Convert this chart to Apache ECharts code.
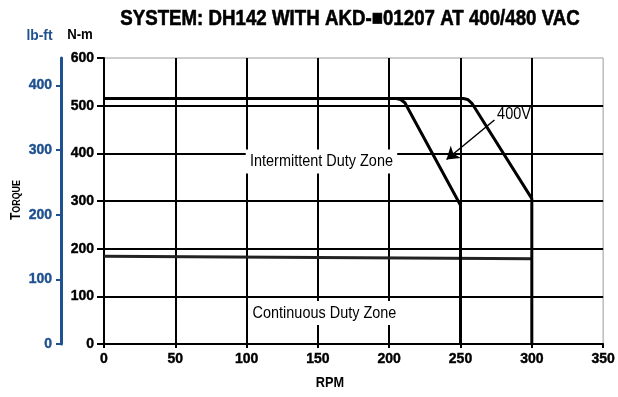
<!DOCTYPE html>
<html>
<head>
<meta charset="utf-8">
<script src="https://cdn.jsdelivr.net/npm/echarts@6/dist/echarts.min.js"></script>
<style>
  html, body { margin: 0; padding: 0; background: #fff; }
  #chart { width: 618px; height: 397px; }
</style>
</head>
<body>
<div id="chart"></div>
<script>
// Torque / speed curves, torque in N-m against speed in RPM
const rpmTicks = [0, 50, 100, 150, 200, 250, 300, 350];
const nmTicks = [0, 100, 200, 300, 400, 500, 600];
const lbftTicks = [0, 100, 200, 300, 400];

// Peak torque envelope at 400 V (inner curve)
const peak400V = [[0, 515], [205, 515], [208, 513], [211, 506], [250, 291], [250, 0]];
// Peak torque envelope at 480 V (outer curve)
const peak480V = [[0, 515], [252, 515], [255, 513], [258, 505], [300, 305], [300, 0]];
// Continuous torque line
const continuousTorque = [[0, 184], [300, 179]];

// Zone captions and the voltage callout, placed in data space (RPM, N-m)
const zoneLabels = [
  [152.5, 383, 'Intermittent Duty Zone'],
  [154.6, 65, 'Continuous Duty Zone']
];
const voltageLabel = [287.5, 481, '400V'];
const voltageArrow = [[273.8, 470], [240.2, 387]];

const titleText = 'SYSTEM: DH142 WITH AKD-\u25A001207 AT 400/480 VAC';

const NM_PER_LBFT = 1.355818;
const BLUE = '#1f5190';
const SANS = "'Liberation Sans', Arial, Helvetica, sans-serif";
const SQUEEZE = 0.85; // horizontal compression giving a condensed face

const chart = echarts.init(document.getElementById('chart'), null, { renderer: 'canvas' });

const axisLabelStyle = {
  color: '#000', fontFamily: SANS, fontWeight: 'bold', fontSize: 14,
  textBorderColor: '#000', textBorderWidth: 0.4
};

chart.setOption({
  animation: false,
  backgroundColor: '#fff',
  grid: {
    left: 104, right: 11, top: 58, bottom: 53,
    show: true, borderColor: '#9a9a9a', borderWidth: 1, backgroundColor: 'transparent'
  },
  xAxis: {
    type: 'value',
    min: rpmTicks[0], max: rpmTicks[rpmTicks.length - 1], interval: 50,
    axisLine: { show: true, lineStyle: { color: '#000', width: 2 } },
    axisTick: { show: true, length: 4, lineStyle: { color: '#000', width: 2 } },
    axisLabel: Object.assign({ margin: 8 }, axisLabelStyle),
    splitLine: { show: true, showMinLine: false, showMaxLine: false, lineStyle: { color: '#000', width: 2 } }
  },
  yAxis: [
    {
      type: 'value',
      min: nmTicks[0], max: nmTicks[nmTicks.length - 1], interval: 100,
      position: 'left',
      axisLine: { show: true, lineStyle: { color: '#000', width: 2 } },
      axisTick: { show: true, length: 7, lineStyle: { color: '#000', width: 2 } },
      axisLabel: Object.assign({ margin: 10 }, axisLabelStyle),
      splitLine: { show: true, showMinLine: false, showMaxLine: false, lineStyle: { color: '#000', width: 2 } }
    },
    {
      type: 'value',
      min: 0, max: nmTicks[nmTicks.length - 1] / NM_PER_LBFT,
      position: 'left', offset: 43,
      axisLine: { show: true, onZero: false, lineStyle: { color: BLUE, width: 3 } },
      axisTick: { show: true, length: 5, customValues: lbftTicks, lineStyle: { color: BLUE, width: 2 } },
      axisLabel: Object.assign({}, axisLabelStyle, {
        customValues: lbftTicks, color: BLUE, textBorderColor: BLUE, margin: 9
      }),
      splitLine: { show: false }
    }
  ],
  series: [
    {
      name: 'Continuous',
      type: 'line', data: continuousTorque, symbol: 'none',
      lineStyle: { color: '#222', width: 3 }, z: 3
    },
    {
      name: '400V',
      type: 'line', data: peak400V, symbol: 'none',
      lineStyle: { color: '#000', width: 3, join: 'round' }, z: 4,
      markLine: {
        silent: true,
        symbol: ['none', 'arrow'],
        symbolSize: 12,
        label: { show: false },
        lineStyle: { color: '#000', width: 1.5, type: 'solid' },
        data: [[{ coord: voltageArrow[0] }, { coord: voltageArrow[1] }]]
      }
    },
    {
      name: '480V',
      type: 'line', data: peak480V, symbol: 'none',
      lineStyle: { color: '#000', width: 3, join: 'round' }, z: 4
    }
  ]
});

// Free text: squeezed horizontally to read as a condensed face
function label(id, text, x, y, font, fill, extra) {
  return Object.assign({
    id, type: 'text', x, y, scaleX: SQUEEZE, z: 100,
    style: { text, align: 'center', verticalAlign: 'middle', font, fill }
  }, extra || {});
}

const toPx = (pt) => chart.convertToPixel({ xAxisIndex: 0, yAxisIndex: 0 }, [pt[0], pt[1]]);

const title = label('title', titleText, 350, 19, 'bold 22px ' + SANS, '#000');
title.style.stroke = '#000';
title.style.lineWidth = 0.6;

const graphics = [
  title,
  label('lbft', 'lb-ft', 39.5, 36, 'bold 15px ' + SANS, BLUE, { scaleX: 0.92 }),
  label('nm', 'N-m', 80, 35, 'bold 15px ' + SANS, '#000', { scaleX: 0.88 }),
  label('rpm', 'RPM', 330, 383, 'bold 15px ' + SANS, '#000'),
  {
    id: 'torque', type: 'text', x: 16, y: 200, rotation: Math.PI / 2, scaleX: SQUEEZE,
    style: {
      text: '{a|T}{b|ORQUE}', align: 'center', verticalAlign: 'middle',
      rich: {
        a: { fontFamily: SANS, fontWeight: 'bold', fontSize: 14, fill: '#000', verticalAlign: 'bottom' },
        b: { fontFamily: SANS, fontWeight: 'bold', fontSize: 10.5, fill: '#000', verticalAlign: 'bottom' }
      }
    }
  }
];

zoneLabels.forEach((z, i) => {
  const p = toPx(z);
  const g = label('zone' + i, z[2], p[0], p[1], '17px ' + SANS, '#000');
  g.style.backgroundColor = '#fff';
  g.style.padding = [4, 5, 3, 5];
  graphics.push(g);
});

const vp = toPx(voltageLabel);
graphics.push(label('volt', voltageLabel[2], vp[0], vp[1], '17px ' + SANS, '#000'));

chart.setOption({ graphic: graphics });
</script>
</body>
</html>
